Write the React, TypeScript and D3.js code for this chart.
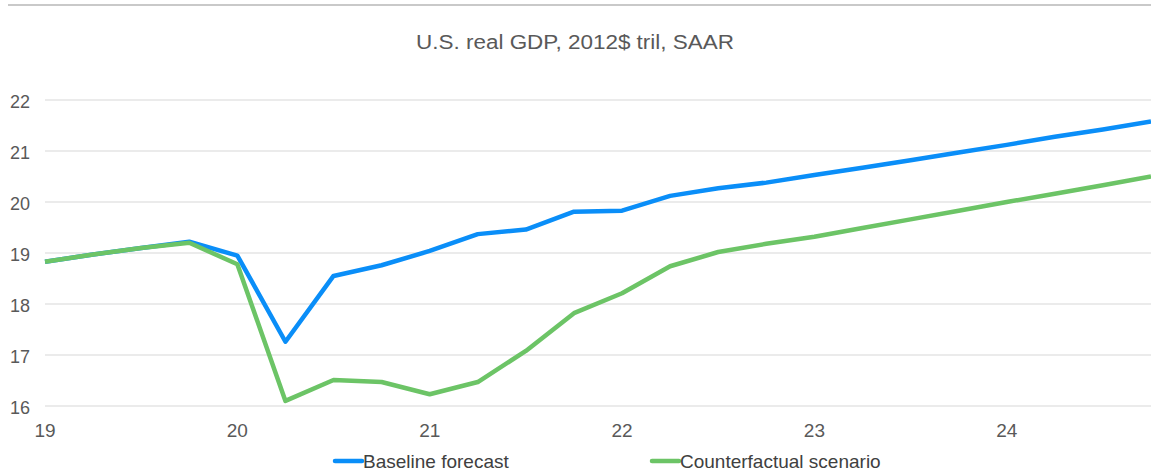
import React, { useEffect } from "react";
import * as d3 from "d3";

const quarters: number[] = d3.range(24).map((i) => 19 + i * 0.25);
const baseline: number[] = [
  18.83, 18.97, 19.1, 19.22, 18.95, 17.26, 18.55, 18.76, 19.04, 19.37, 19.46, 19.81,
  19.83, 20.12, 20.27, 20.38, 20.53, 20.67, 20.82, 20.97, 21.12, 21.28, 21.42, 21.58,
];
const counterfactual: number[] = [
  18.83, 18.97, 19.1, 19.2, 18.78, 16.1, 16.51, 16.47, 16.23, 16.47, 17.08, 17.82,
  18.21, 18.74, 19.02, 19.18, 19.32, 19.49, 19.66, 19.83, 20.0, 20.16, 20.33, 20.5,
];
const yTicks: number[] = [16, 17, 18, 19, 20, 21, 22];
const xTicks: number[] = [19, 20, 21, 22, 23, 24];
const seriesNames: string[] = ["Baseline forecast", "Counterfactual scenario"];
const seriesColors: string[] = ["#0a8ef8", "#6cc466"];
const title = "U.S. real GDP, 2012$ tril, SAAR";

const W = 1151;
const H = 474;
const FONT = "'Liberation Sans', Arial, sans-serif";

export default function App() {
  useEffect(() => {
    document.body.style.margin = "0";
  }, []);

  const x = d3.scaleLinear().domain([19, 24.75]).range([45, 1151]);
  const y = d3.scaleLinear().domain([16, 22]).range([406, 100]);
  const line = d3
    .line<number>()
    .x((_, i) => x(quarters[i]))
    .y((d) => y(d));

  const series = [baseline, counterfactual];
  const legendX = [335, 652];

  return (
    <svg width={W} height={H} style={{ display: "block" }}>
      <rect width={W} height={H} fill="#ffffff" />
      <line x1={8} x2={W} y1={5} y2={5} stroke="#c9c9c9" strokeWidth={2} />
      <text
        x={575}
        y={49}
        textAnchor="middle"
        fontFamily={FONT}
        fontSize={20}
        fill="#595959"
        textLength={318}
        lengthAdjust="spacingAndGlyphs"
      >
        {title}
      </text>
      {yTicks.map((t) => (
        <g key={t}>
          <line x1={45} x2={W} y1={y(t)} y2={y(t)} stroke="#e4e4e4" strokeWidth={1.5} />
          <text
            x={30}
            y={y(t) + 8}
            textAnchor="end"
            fontFamily={FONT}
            fontSize={18}
            fill="#595959"
          >
            {t}
          </text>
        </g>
      ))}
      {xTicks.map((t) => (
        <text
          key={t}
          x={x(t)}
          y={437}
          textAnchor="middle"
          fontFamily={FONT}
          fontSize={19}
          fill="#595959"
        >
          {t}
        </text>
      ))}
      {series.map((s, i) => (
        <path
          key={i}
          d={line(s) || ""}
          fill="none"
          stroke={seriesColors[i]}
          strokeWidth={4.5}
          strokeLinejoin="round"
        />
      ))}
      {seriesNames.map((n, i) => (
        <g key={n}>
          <line
            x1={legendX[i]}
            x2={legendX[i] + 27}
            y1={461}
            y2={461}
            stroke={seriesColors[i]}
            strokeWidth={4.5}
            strokeLinecap="round"
          />
          <text
            x={legendX[i] + 28}
            y={468}
            fontFamily={FONT}
            fontSize={19}
            fill="#404040"
          >
            {n}
          </text>
        </g>
      ))}
    </svg>
  );
}
